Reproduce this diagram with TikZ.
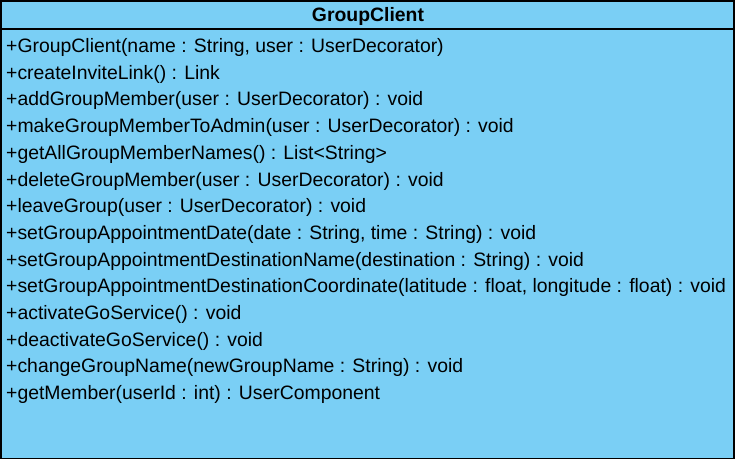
\documentclass[tikz,border=0pt]{standalone}
\usepackage{fontspec}
\setmainfont{Liberation Sans}
\definecolor{umlblue}{RGB}{122,207,245}
\begin{document}
\begin{tikzpicture}[x=1pt,y=-1pt,
  member/.style={anchor=base west,inner sep=0pt,font=\fontsize{19.4}{23}\selectfont},
  titletext/.style={anchor=base,inner sep=0pt,font=\fontsize{19.4}{23}\selectfont\bfseries},
  classbox/.style={draw=black,line width=1.6pt,fill=umlblue}]
\useasboundingbox (0,0) rectangle (736,460);
\path[classbox] (1.3,1.3) rectangle (734,458.5);
\draw[line width=1.6pt] (1.3,29) -- (734,29);
\draw[line width=1.2pt] (625,0) -- (625,2);
\draw[line width=1.2pt] (694,0) -- (694,2);
\node[titletext] (title) at (368,21.5) {GroupClient};
\foreach \t [count=\i from 0] in {
 {+GroupClient(name : String, user : UserDecorator)},
 {+createInviteLink() : Link},
 {+addGroupMember(user : UserDecorator) : void},
 {+makeGroupMemberToAdmin(user : UserDecorator) : void},
 {+getAllGroupMemberNames() : List<String>},
 {+deleteGroupMember(user : UserDecorator) : void},
 {+leaveGroup(user : UserDecorator) : void},
 {+setGroupAppointmentDate(date : String, time : String) : void},
 {+setGroupAppointmentDestinationName(destination : String) : void},
 {+setGroupAppointmentDestinationCoordinate(latitude : float, longitude : float) : void},
 {+activateGoService() : void},
 {+deactivateGoService() : void},
 {+changeGroupName(newGroupName : String) : void},
 {+getMember(userId : int) : UserComponent}}
{
  \node[member] (m\i) at (6,52.5+26.7*\i) {\t};
}
\end{tikzpicture}
\end{document}
